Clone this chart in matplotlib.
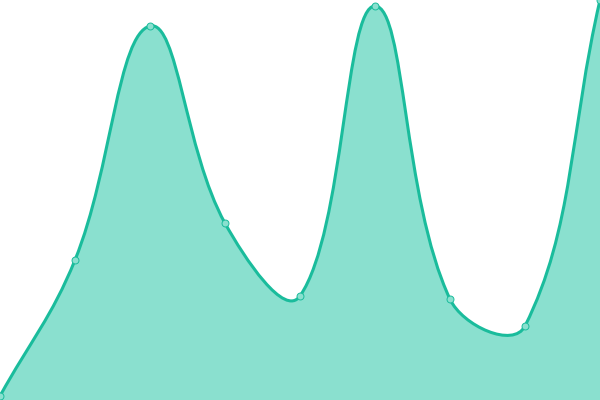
import numpy as np
import matplotlib
matplotlib.use("Agg")
import matplotlib.pyplot as plt
from matplotlib.path import Path
from matplotlib.patches import PathPatch

# data
labels = ["0", "1", "2", "3", "4", "5", "6", "7", "8"]
values = [1, 35, 93.5, 44.2, 26, 98.5, 25.2, 18.5, 100]

LINE = "#1abc9c"
FILL = "#8ae0cf"
TENSION = 0.4


def spline_controls(pts, t):
    # chart.js style spline: tangent weighted by distance to neighbours
    n = len(pts)
    ctrl = []
    for i in range(n):
        prev = pts[max(i - 1, 0)]
        cur = pts[i]
        nxt = pts[min(i + 1, n - 1)]
        d01 = np.hypot(*(cur - prev))
        d12 = np.hypot(*(nxt - cur))
        tot = d01 + d12
        s01 = d01 / tot if tot else 0
        s12 = d12 / tot if tot else 0
        fa = t * s01
        fb = t * s12
        ctrl.append((cur - fa * (nxt - prev), cur + fb * (nxt - prev)))
    return ctrl


fig = plt.figure(figsize=(6, 4), dpi=100)
ax = fig.add_axes([0, 0, 1, 1])
ax.set_xlim(0, len(values) - 1)
ax.set_ylim(0, 100)
ax.axis("off")

x = np.arange(len(values))
pix = ax.transData.transform(np.column_stack([x, values]))
ctrl = spline_controls(pix, TENSION)

verts = [pix[0]]
codes = [Path.MOVETO]
for i in range(1, len(pix)):
    verts += [ctrl[i - 1][1], ctrl[i][0], pix[i]]
    codes += [Path.CURVE4] * 3
inv = ax.transData.inverted()
line_verts = inv.transform(np.array(verts))

area_verts = np.vstack([line_verts, [[x[-1], 0], [x[0], 0], line_verts[0]]])
area_codes = codes + [Path.LINETO, Path.LINETO, Path.CLOSEPOLY]

ax.add_patch(PathPatch(Path(area_verts, area_codes), facecolor=FILL,
                       edgecolor="none", zorder=1))
ax.add_patch(PathPatch(Path(line_verts, codes), facecolor="none",
                       edgecolor=LINE, linewidth=2.2, zorder=2,
                       capstyle="round", joinstyle="round"))
ax.plot(x, values, linestyle="none", marker="o", markersize=5,
        markerfacecolor=FILL, markeredgecolor=LINE, markeredgewidth=0.7,
        zorder=3, clip_on=False)

fig.savefig("out.png", dpi=100)
